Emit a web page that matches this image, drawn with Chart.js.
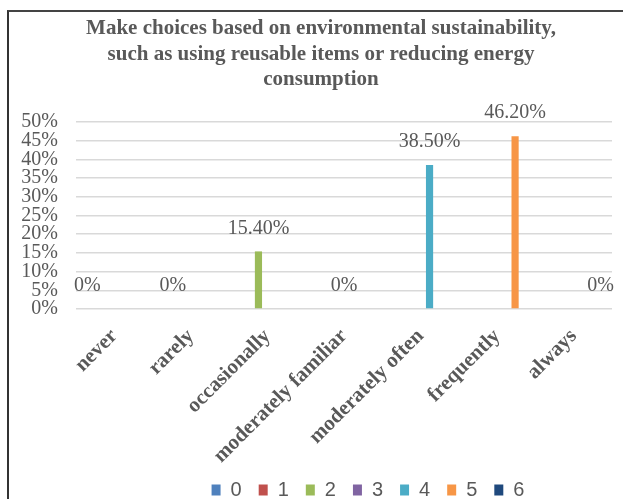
<!DOCTYPE html>
<html>
<head>
<meta charset="utf-8">
<script src="https://cdn.jsdelivr.net/npm/chart.js@4.4.1/dist/chart.umd.min.js"></script>
<style>
html, body { margin: 0; padding: 0; background: #fff; overflow: hidden; width: 623px; height: 499px; }
#clip { position: absolute; left: 0; top: 0; width: 623px; height: 499px; overflow: hidden; }
#frame { position: absolute; left: 7px; top: 10px; width: 740px; height: 540px; border-left: 2px solid #333; border-top: 2px solid #444; }
#wrap { position: absolute; left: 0; top: 0; width: 718px; height: 498px; }
</style>
</head>
<body>
<div id="clip"><div id="frame"><div id="wrap"><canvas id="chart"></canvas></div></div></div>
<script>
const titleLines = [
    "Make choices based on environmental sustainability,",
    "such as using reusable items or reducing energy",
    "consumption"
];
const categories = ["never", "rarely", "occasionally", "moderately familiar", "moderately often", "frequently", "always"];
const seriesNames = ["0", "1", "2", "3", "4", "5", "6"];
const values = [0, 0, 15.4, 0, 38.5, 46.2, 0];
const seriesColors = ["#4F81BD", "#C0504D", "#9BBB59", "#8064A2", "#4BACC6", "#F79646", "#1F497D"];

const serif = '"Liberation Serif", "Times New Roman", serif';
const grey = "#595959";

// each series only has a value in its own category, the other slots stay empty
const datasets = seriesNames.map((name, i) => ({
    label: name,
    data: categories.map((c, j) => (j === i ? values[i] : null)),
    backgroundColor: seriesColors[i],
    categoryPercentage: 0.82,
    barPercentage: 0.8
}));

const titlePlugin = {
    id: "customTitle",
    afterDraw(chart) {
        const ctx = chart.ctx;
        ctx.save();
        ctx.font = "bold 21px " + serif;
        ctx.fillStyle = grey;
        ctx.textAlign = "center";
        ctx.textBaseline = "alphabetic";
        titleLines.forEach((line, i) => ctx.fillText(line, 312, 22 + i * 25.5));
        ctx.restore();
    }
};

const valueLabels = {
    id: "valueLabels",
    afterDatasetsDraw(chart) {
        const ctx = chart.ctx;
        ctx.save();
        ctx.font = "20px " + serif;
        ctx.fillStyle = grey;
        ctx.textAlign = "center";
        ctx.textBaseline = "middle";
        chart.data.datasets.forEach((ds, i) => {
            chart.getDatasetMeta(i).data.forEach((bar, j) => {
                const v = ds.data[j];
                if (v === null) return;
                ctx.fillText(v === 0 ? "0%" : v.toFixed(2) + "%", bar.x, bar.y - 23);
            });
        });
        ctx.restore();
    }
};

const ctx = document.getElementById("chart").getContext("2d");
new Chart(ctx, {
    type: "bar",
    data: { labels: categories, datasets: datasets },
    plugins: [titlePlugin, valueLabels],
    options: {
        responsive: true,
        maintainAspectRatio: false,
        animation: false,
        layout: { padding: { top: 110, right: 0, left: 0, bottom: 0 } },
        plugins: {
            legend: {
                position: "bottom",
                labels: {
                    boxWidth: 9,
                    boxHeight: 11,
                    padding: 17,
                    color: grey,
                    font: { family: '"Liberation Sans Narrow", "Liberation Sans", Arial, sans-serif', size: 20 }
                }
            },
            tooltip: { enabled: false }
        },
        scales: {
            x: {
                grid: { display: false },
                border: { display: false },
                afterFit: (scale) => { scale.height = 154; },
                ticks: {
                    color: grey,
                    font: { family: serif, size: 21, weight: "bold" },
                    maxRotation: 45,
                    minRotation: 45,
                    autoSkip: false,
                    padding: 7
                }
            },
            y: {
                min: 0,
                max: 50,
                border: { display: false },
                grid: { color: "#d9d9d9", lineWidth: 1.5, drawTicks: false },
                afterFit: (scale) => { scale.width = 67; },
                ticks: {
                    stepSize: 5,
                    autoSkip: false,
                    color: grey,
                    padding: 18,
                    font: { family: serif, size: 20, lineHeight: 1 },
                    callback: (v) => v + "%"
                }
            },
            // empty right axis, only keeps the plot narrower than the legend row
            yRight: {
                type: "linear",
                position: "right",
                grid: { display: false },
                border: { display: false },
                ticks: { display: false },
                afterFit: (scale) => { scale.width = 115; }
            }
        }
    }
});
</script>
</body>
</html>
